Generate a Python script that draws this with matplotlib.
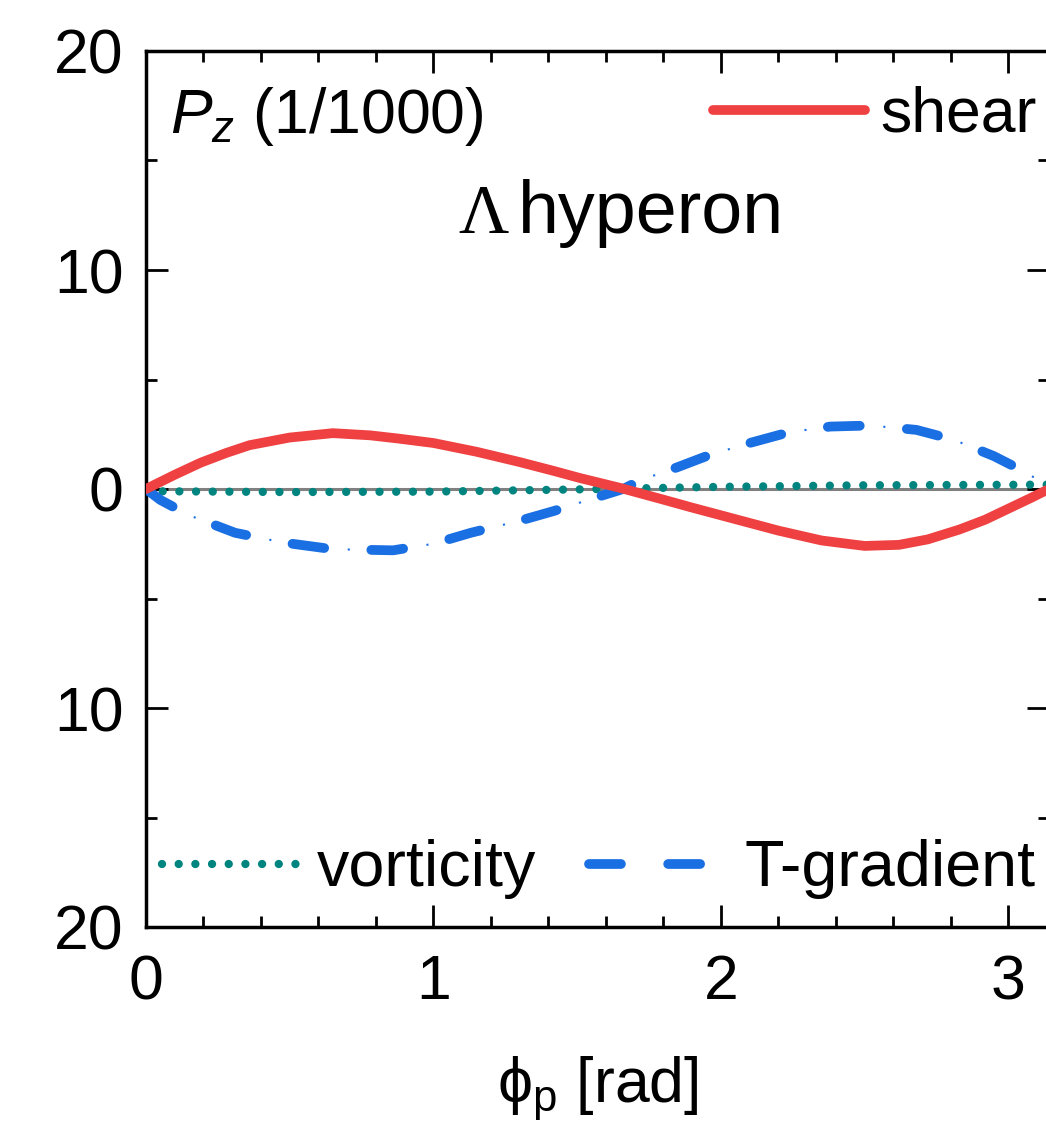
import numpy as np
import matplotlib
matplotlib.use("Agg")
import matplotlib.pyplot as plt
from matplotlib.ticker import MultipleLocator

plt.rcParams['font.family'] = ['Liberation Sans', 'DejaVu Sans']
plt.rcParams['mathtext.fontset'] = 'custom'
plt.rcParams['mathtext.rm'] = 'Liberation Sans'
plt.rcParams['mathtext.it'] = 'Liberation Sans:italic'
plt.rcParams['lines.scale_dashes'] = False

# values (phi_p in rad, P_z in units of 1/1000)
shear_x = [0, 0.1, 0.19, 0.28, 0.36, 0.5, 0.65, 0.78, 0.88, 1.0, 1.15, 1.3, 1.42,
           1.51, 1.65, 1.79, 1.9, 2.0, 2.1, 2.2, 2.35, 2.5, 2.62, 2.72, 2.83,
           2.92, 3.0, 3.08, 3.1416]
shear_y = [0, 0.65, 1.2, 1.65, 2.0, 2.35, 2.55, 2.45, 2.3, 2.1, 1.7, 1.23, 0.82,
           0.5, 0.05, -0.45, -0.85, -1.2, -1.55, -1.9, -2.35, -2.6, -2.55, -2.3, -1.85,
           -1.4, -0.9, -0.4, 0]

tgrad_x = [0, 0.05, 0.15, 0.31, 0.48, 0.65, 0.86, 1.0, 1.13, 1.3, 1.42, 1.55,
           1.66, 1.72, 1.85, 1.96, 2.1, 2.24, 2.38, 2.52, 2.68, 2.81, 2.95,
           3.04, 3.1, 3.1416]
tgrad_y = [0, -0.5, -1.2, -2.0, -2.45, -2.75, -2.8, -2.5, -2.0, -1.45, -1.0, -0.45,
           0.0, 0.4, 1.0, 1.55, 2.1, 2.6, 2.85, 2.9, 2.7, 2.25, 1.5, 0.9, 0.45, 0]

vort_x = [0, 0.5, 1.0, 1.5, 2.0, 2.5, 3.1416]
vort_y = [-0.1, -0.14, -0.12, -0.02, 0.1, 0.17, 0.2]

xticks = [0, 1, 2, 3]
yticks = [-20, -10, 0, 10, 20]
ytick_labels = ['20', '10', '0', '10', '20']

red = '#f04142'
blue = '#1a6fe3'
teal = '#00847f'
fs = 45

fig = plt.figure(figsize=(10.46, 11.3), dpi=100)
ax = fig.add_axes([146 / 1046, 203 / 1130, 903 / 1046, 876 / 1130])

ax.axhline(0, color='#808080', lw=2.2, zorder=1)
ax.plot(vort_x, vort_y, color=teal, lw=6, dashes=(0.01, 12),
        dash_capstyle='round', label='vorticity', zorder=2)
# dash-dot: long rounded dashes, with a tiny dot drawn by a thin line in each gap
tg, = ax.plot(tgrad_x, tgrad_y, color=blue, lw=7, dashes=(23, 34),
              dash_capstyle='round', label='T-gradient', zorder=3)
ax.plot(tgrad_x, tgrad_y, color=blue, lw=1.5, linestyle=(17, (1.5, 55.5)),
        dash_capstyle='butt', zorder=3)
sh, = ax.plot(shear_x, shear_y, color=red, lw=7, solid_capstyle='round',
              label='shear', zorder=4)

ax.set_xlim(0, np.pi)
ax.set_ylim(-20, 20)
ax.set_xticks(xticks)
ax.set_yticks(yticks)
ax.set_yticklabels(ytick_labels)
ax.xaxis.set_minor_locator(MultipleLocator(0.2))
ax.yaxis.set_minor_locator(MultipleLocator(5))
ax.tick_params(which='both', direction='in', top=True, right=True,
               labelsize=fs, width=2)
ax.tick_params(which='major', length=16)
ax.tick_params(which='minor', length=8)
ax.tick_params(axis='y', pad=16)
ax.tick_params(axis='x', pad=19)
for s in ax.spines.values():
    s.set_linewidth(2.5)

ax.set_xlabel(r'$\mathregular{\phi_p}$ [rad]', fontsize=fs, labelpad=30)

ax.text(0.027, 0.906, r'$P_z$ (1/1000)', transform=ax.transAxes,
        fontsize=fs, va='baseline', ha='left')
ax.text(0.3455, 0.792, 'Λ', transform=ax.transAxes, fontsize=50,
        family='Liberation Serif', va='baseline', ha='left')
ax.text(0.412, 0.792, 'hyperon', transform=ax.transAxes, fontsize=53,
        va='baseline', ha='left')

leg1 = ax.legend(handles=[sh], loc='center left', bbox_to_anchor=(0.628, 0.927),
                 frameon=False, fontsize=fs, handlelength=2.43, handletextpad=0.24,
                 borderpad=0, borderaxespad=0)
ax.add_artist(leg1)
ax.legend(ax.get_lines()[1:3], ['vorticity', 'T-gradient'], ncol=2,
          loc='center left', bbox_to_anchor=(0.0177, 0.066),
          frameon=False, fontsize=46.5, handlelength=2.15, handletextpad=0.25,
          columnspacing=0.82, borderpad=0, borderaxespad=0)

fig.savefig('out.png', dpi=100)
